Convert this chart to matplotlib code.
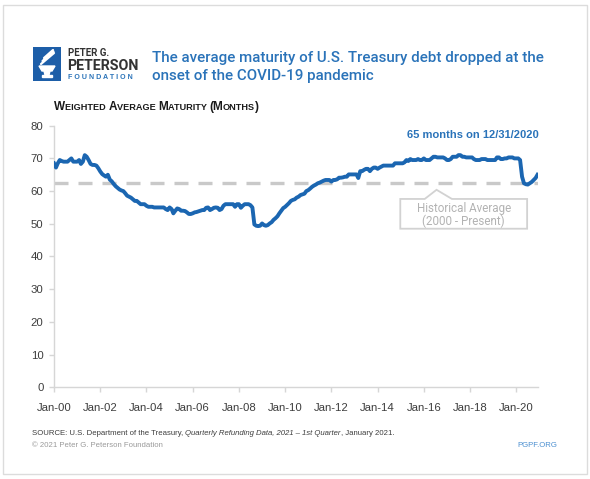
import matplotlib
matplotlib.use("Agg")
from matplotlib import pyplot as plt
import matplotlib.dates as mdates
import matplotlib.patches as patches
import numpy as np
import pandas as pd

# weighted average maturity, months (monthly Jan-2000 .. Dec-2020)
wam_2000 = [68.5, 67.2, 68.5, 69.5, 69.2, 69, 69, 69, 69.5, 70, 69, 69]
wam_2001 = [69, 69.5, 68.3, 69, 71, 70.5, 69.5, 68.3, 68, 68, 67.8, 67]
wam_2002 = [66, 65.2, 64.8, 64.4, 65, 63.5, 63, 62.2, 61.5, 61, 60.5, 60.2]
wam_2003 = [60, 59.3, 58.6, 58.3, 58, 57.5, 57, 57, 56.5, 56, 56, 56]
wam_2004 = [55.5, 55.2, 55.2, 55.2, 55, 55, 55, 55, 55, 55, 54.5, 54.2]
wam_2005 = [55, 54.5, 53.2, 54, 54.7, 54.5, 54, 54, 53.9, 53.5, 53, 53]
wam_2006 = [53.2, 53.5, 53.6, 53.8, 54, 54.2, 54.2, 54.9, 55, 54.2, 54.5, 54.9]
wam_2007 = [55, 54.9, 54.2, 54.5, 55.5, 56, 56, 56, 56, 56, 55.2, 56]
wam_2008 = [56, 54.9, 55.5, 56, 56, 56, 55.7, 55, 49.8, 49.4, 49.3, 49.4]
wam_2009 = [50.1, 49.6, 49.4, 49.6, 50.1, 50.5, 51.2, 51.7, 52.3, 53.2, 54, 54.8]
wam_2010 = [55.2, 55.8, 56.3, 57, 57.3, 57.5, 58, 58.3, 58.8, 59, 59.2, 60]
wam_2011 = [60.3, 60.8, 61.3, 61.7, 62, 62.4, 62.6, 62.9, 63.2, 63.4, 63.4, 63.4]
wam_2012 = [62.9, 63.4, 63.4, 63.6, 64.1, 64.1, 64.2, 64.4, 64.4, 65.1, 65.1, 65.1]
wam_2013 = [65.1, 65.1, 64, 66.1, 66.1, 66.5, 66.8, 66.8, 66.1, 66.8, 67.2, 67.2]
wam_2014 = [66.8, 67.2, 67.5, 67.8, 67.8, 67.8, 67.8, 67.8, 67.8, 68.5, 68.5, 68.5]
wam_2015 = [68.5, 68.5, 68.8, 69.5, 69.2, 69.8, 69.5, 69.5, 69.5, 69.8, 69.5, 69.5]
wam_2016 = [70, 69.5, 69.5, 69.5, 70, 70.5, 70.5, 70.3, 70.3, 70.3, 70.3, 70]
wam_2017 = [69.5, 69.5, 69.8, 70.5, 70.5, 70.5, 71, 71, 70.5, 70.5, 70.3, 70.3]
wam_2018 = [70.3, 70.3, 69.8, 69.5, 69.5, 69.5, 69.8, 69.8, 69.8, 69.5, 69.5, 69.5]
wam_2019 = [69.5, 69.5, 70.3, 70.3, 69.8, 69.8, 70, 70, 70.3, 70.3, 70.3, 70]
wam_2020 = [70, 70, 69.5, 64.4, 62.4, 62.1, 62, 62.4, 62.8, 63.4, 64, 65]

hist_avg = 62.4
y_ticks = [0, 10, 20, 30, 40, 50, 60, 70, 80]
tick_years = list(range(2000, 2021, 2))

wam = np.concatenate([wam_2000, wam_2001, wam_2002, wam_2003, wam_2004, wam_2005,
                      wam_2006, wam_2007, wam_2008, wam_2009, wam_2010, wam_2011,
                      wam_2012, wam_2013, wam_2014, wam_2015, wam_2016, wam_2017,
                      wam_2018, wam_2019, wam_2020])
dates = pd.date_range("2000-01-01", periods=len(wam), freq="MS")

BLUE = "#1b66b1"
TITLE_BLUE = "#2a73b9"
GRID = "#d6d6d6"
FONT = ["Liberation Sans", "DejaVu Sans"]
NARROW = ["Roboto", "DejaVu Sans"]

W, H = 590, 479
fig = plt.figure(figsize=(W / 100, H / 100), dpi=100)
fig.patch.set_facecolor("white")


def px(x, y):
    # pixel (from top-left) -> figure fraction
    return x / W, 1 - y / H


# outer frame
fig.patches.append(patches.Rectangle(px(3, 474), 584 / W, 469 / H, transform=fig.transFigure,
                                     fill=False, edgecolor="#dcdcdc", lw=1))

# ---- logo
lax = fig.add_axes([33 / W, 1 - 81 / H, 28 / W, 34 / H])
lax.set_xlim(0, 28)
lax.set_ylim(34, 0)
lax.set_facecolor("#1d5ea8")
for s in lax.spines.values():
    s.set_visible(False)
lax.set_xticks([])
lax.set_yticks([])
# bowl + base of the torch
lax.add_patch(patches.Polygon([[6, 19], [22, 19], [19, 24], [9, 24]], color="white"))
lax.add_patch(patches.Polygon([[11, 24], [17, 24], [16, 28], [12, 28]], color="white"))
lax.add_patch(patches.Polygon([[9, 28], [19, 28], [19, 30], [9, 30]], color="white"))
# flame strokes
for k in range(3):
    lax.plot([8 + k * 1.5, 21 - k * 0.5], [17 - k * 3, 6 - k * 1.5], color="white", lw=1.6,
             solid_capstyle="round")

fig.text(*px(68, 53), "PETER G.", family=NARROW, fontsize=7, weight="bold", color="#333333",
         va="center", ha="left")
fig.text(*px(67.5, 66), "PETERSON", family=NARROW, fontsize=10.2, weight="bold", color="#333333",
         va="center", ha="left")
fig.text(*px(68, 77.5), "F O U N D A T I O N", family=FONT, fontsize=5.1, weight="bold",
         color="#2a73b9", va="center", ha="left")

# ---- title
fig.text(*px(152, 58), "The average maturity of U.S. Treasury debt dropped at the",
         family=NARROW, fontsize=10.9, weight="medium", color=TITLE_BLUE, va="center", ha="left")
fig.text(*px(152, 76), "onset of the COVID-19 pandemic",
         family=NARROW, fontsize=10.9, weight="medium", color=TITLE_BLUE, va="center", ha="left")

renderer = fig.canvas.get_renderer()


def draw_runs(x, y, runs, **common):
    # writes pieces of text one after the other on the same baseline
    xf, yf = px(x, y)
    for txt, kw in runs:
        opts = dict(common)
        opts.update(kw)
        t = fig.text(xf, yf, txt, ha="left", va="baseline", **opts)
        bb = t.get_window_extent(renderer)
        xf = bb.x1 / W


# small caps subtitle
big, small = 8.5, 6.6
draw_runs(54, 110, [("W", dict(fontsize=big)), ("EIGHTED ", dict(fontsize=small)),
                    ("A", dict(fontsize=big)), ("VERAGE ", dict(fontsize=small)),
                    ("M", dict(fontsize=big)), ("ATURITY ", dict(fontsize=small)),
                    ("(M", dict(fontsize=big)), ("ONTHS", dict(fontsize=small)),
                    (")", dict(fontsize=big))],
          family=FONT, weight="bold", color="#1a1a1a")

# ---- main axes
ax = fig.add_axes([54 / W, 1 - 387.3 / H, (537.5 - 54) / W, (387.3 - 125.7) / H])
ax.plot(dates, wam, color=BLUE, lw=2.8, solid_joinstyle="round", zorder=3)
ax.axhline(hist_avg, color="#c9c9c9", lw=2.4, dashes=(4.2, 3.0), zorder=2)

ax.set_ylim(0, 80)
ax.set_yticks(y_ticks)
ax.set_xlim(dates[0], dates[-1])
ax.set_xticks([pd.Timestamp(f"{y}-01-01") for y in tick_years])
ax.xaxis.set_major_formatter(mdates.DateFormatter("%b-%y"))

for side in ["top", "right"]:
    ax.spines[side].set_visible(False)
for side in ["left", "bottom"]:
    ax.spines[side].set_color(GRID)
    ax.spines[side].set_linewidth(1)
ax.tick_params(axis="both", colors=GRID, length=3.5, width=1, labelsize=8.2, labelcolor="#3d3d3d")
ax.tick_params(axis="x", pad=8)
ax.tick_params(axis="y", pad=4)
for lab in ax.get_xticklabels() + ax.get_yticklabels():
    lab.set_family(FONT)

ax.text(dates[-1] + pd.Timedelta(days=20), 77.2, "65 months on 12/31/2020", ha="right", va="center",
        fontsize=8, weight="bold", color=TITLE_BLUE, family=FONT)

# callout box for the historical average
x0 = pd.Timestamp("2014-12-25")
x1 = pd.Timestamp("2020-06-20")
xa = pd.Timestamp("2016-07-20")
xb0 = pd.Timestamp("2016-01-15")
xb1 = pd.Timestamp("2017-03-20")
top, bot, apex = 57.6, 48.5, 60.4
box = [[x0, top], [xb0, top], [xa, apex], [xb1, top], [x1, top], [x1, bot], [x0, bot], [x0, top]]
bx = [mdates.date2num(p[0]) for p in box]
by = [p[1] for p in box]
ax.add_patch(patches.Polygon(np.column_stack([bx, by]), closed=True, facecolor="white",
                             edgecolor="#d2d2d2", lw=1.3, zorder=4))
xc = x0 + (x1 - x0) / 2
ax.text(xc, 54.7, "Historical Average", ha="center", va="center", fontsize=8.4,
        color="#b3b3b3", family=NARROW, zorder=5)
ax.text(xc, 50.9, "(2000 - Present)", ha="center", va="center", fontsize=8.4,
        color="#b3b3b3", family=NARROW, zorder=5)

# ---- footer
draw_runs(32, 435, [("SOURCE: U.S. Department of the Treasury, ", dict()),
                    ("Quarterly Refunding Data, 2021 \u2013 1st Quarter", dict(style="italic")),
                    (", January 2021.", dict())],
          family=FONT, fontsize=5.6, color="#3d3d3d")
fig.text(*px(32, 447), "\u00a9 2021 Peter G. Peterson Foundation", family=FONT, fontsize=5.6,
         color="#9a9a9a", ha="left", va="baseline")
fig.text(*px(557, 447), "PGPF.ORG", family=FONT, fontsize=5.6, color="#4b8fd0",
         ha="right", va="baseline")

fig.savefig("out.png", dpi=100)
